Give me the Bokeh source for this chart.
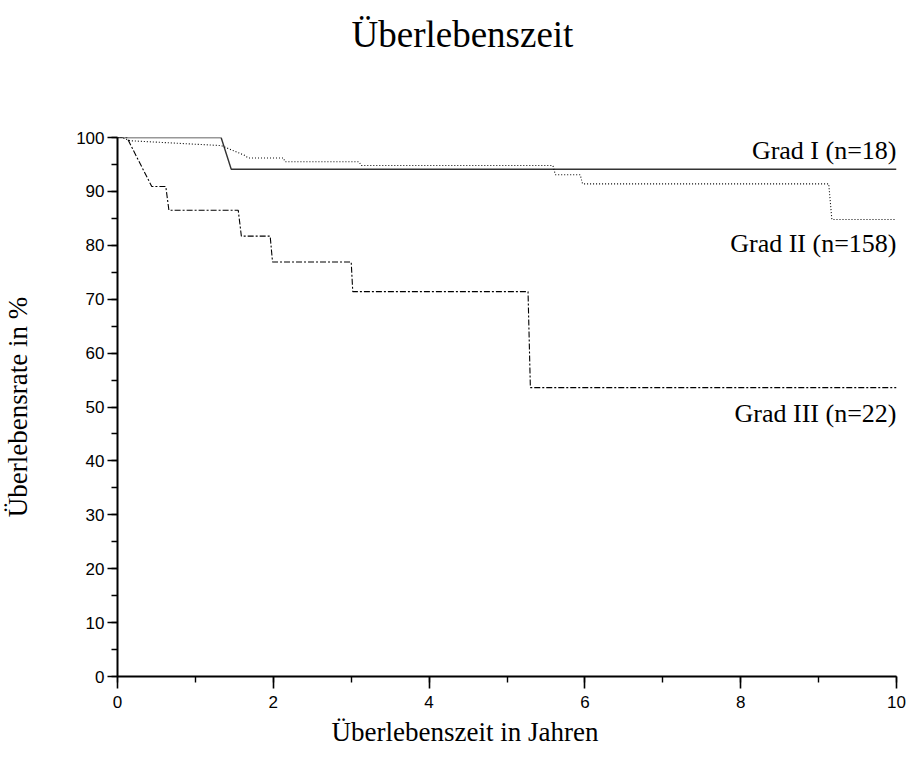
from bokeh.plotting import figure
from bokeh.models import Label, SingleIntervalTicker, Title
from bokeh.embed import file_html
from bokeh.resources import INLINE

# ---- data ----
years_grad1 = [0, 1.33, 1.46, 10]
surv_grad1 = [100, 100, 94.1, 94.1]

years_grad2 = [0, 0.06, 0.16, 1.33, 1.63, 1.68, 2.13, 2.15, 3.10, 3.13, 5.59, 5.62,
               5.94, 5.97, 9.13, 9.17, 10]
surv_grad2 = [100, 100, 99.4, 98.5, 96.7, 96.2, 96.2, 95.5, 95.5, 94.8, 94.8, 93.1,
              93.1, 91.4, 91.4, 84.8, 84.8]

years_grad3 = [0, 0.12, 0.44, 0.62, 0.66, 1.55, 1.59, 1.96, 1.99, 3.00, 3.02, 5.27, 5.30, 10]
surv_grad3 = [100, 100, 90.9, 90.9, 86.5, 86.5, 81.7, 81.7, 76.9, 76.9, 71.4, 71.4, 53.6, 53.6]

series_labels = ["Grad I (n=18)", "Grad II (n=158)", "Grad III (n=22)"]
title_text = "Überlebenszeit"
x_label = "Überlebenszeit in Jahren"
y_label = "Überlebensrate in %"

SERIF = "Liberation Serif"
SANS = "Liberation Sans"

p = figure(width=910, height=758, x_range=(0, 10), y_range=(0, 100),
           output_backend="svg", toolbar_location=None, title=None,
           min_border_left=116, min_border_right=14, min_border_top=137,
           min_border_bottom=82)
p.grid.visible = False
p.outline_line_color = None
p.background_fill_color = "white"
p.border_fill_color = "white"

p.line(years_grad1, surv_grad1, line_color="#333333", line_width=1.4)
p.line(years_grad2, surv_grad2, line_color="black", line_width=1.1, line_dash="1 2")
p.line(years_grad3, surv_grad3, line_color="black", line_width=1.1, line_dash="6 2 2 2")

p.xaxis.ticker = SingleIntervalTicker(interval=2, num_minor_ticks=2)
p.yaxis.ticker = SingleIntervalTicker(interval=10, num_minor_ticks=2)
for ax in (p.xaxis, p.yaxis):
    ax.axis_line_width = 2
    ax.axis_line_color = "black"
    ax.major_tick_line_width = 1.6
    ax.minor_tick_line_width = 1.4
    ax.major_tick_line_color = "black"
    ax.minor_tick_line_color = "black"
    ax.major_tick_in = 0
    ax.minor_tick_in = 0
    ax.minor_tick_out = 6
    ax.major_label_text_font = SANS
    ax.major_label_text_font_size = "17px"
    ax.major_label_text_color = "black"
    ax.axis_label_text_font = SERIF
    ax.axis_label_text_font_style = "normal"
    ax.axis_label_text_font_size = "27px"
    ax.axis_label_text_color = "black"

p.xaxis.major_tick_out = 12
p.yaxis.major_tick_out = 10
p.xaxis.major_label_standoff = 7
p.yaxis.major_label_standoff = 3
p.yaxis.axis_label = y_label
p.yaxis.axis_label_standoff = 40

# blank spacer title closest to the frame, then the real title above it
p.add_layout(Title(text=" ", standoff=70, text_font=SERIF,
                   text_font_size="10px", text_color="white"), "above")
p.add_layout(Title(text=title_text, align="left", offset=234, standoff=0,
                   text_font=SERIF, text_font_style="normal",
                   text_font_size="37px", text_color="black"), "above")

# x axis title (as a title below, so it can be placed like the reference)
p.add_layout(Title(text=x_label, align="left", offset=214, standoff=8,
                   text_font=SERIF, text_font_style="normal",
                   text_font_size="27px", text_color="black"), "below")

label_y = [97.6, 80.3, 48.8]
for txt, ly in zip(series_labels, label_y):
    p.add_layout(Label(x=10, y=ly, text=txt, text_align="right",
                       text_baseline="middle", text_font=SERIF,
                       text_font_size="26px", text_color="black"))

open("out.html", "w").write(file_html(p, INLINE))
